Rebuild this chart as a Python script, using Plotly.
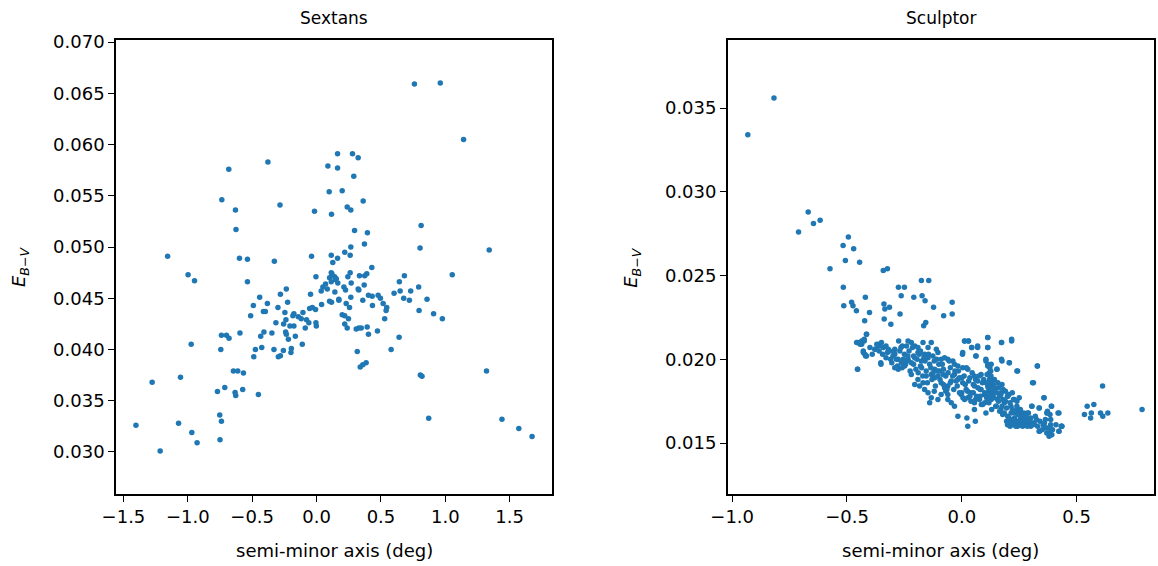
import plotly.graph_objects as go

# ---------------- Sextans ----------------
sextans_x = [
    0.163, -0.378, -0.682, 0.088, 0.163, 0.098, -0.736, -0.284, -0.630, -0.016,
    0.116, -0.626, -1.157, -0.599, -0.537, -0.328, -0.039, 0.114, 0.163, 0.126,
    0.760, 0.961, 1.142, 0.279, 0.323, 0.289, 0.199, 0.362, 0.238, 0.266,
    0.812, 0.295, 0.395, 0.372, 0.266, 0.804, 1.341, 0.219, 0.261, 0.429,
    -0.998, -0.948, -0.537, -0.005, 0.119, 0.147, 0.101, 0.070, 0.049, 0.083,
    0.036, 0.142, -0.047, -0.235, -0.281, -0.442, -0.225, -0.382, -0.491, -0.300,
    -0.413, -0.398, -0.512, -0.246, -0.176, -0.106, -0.054, -0.033, -0.008, 0.039,
    0.101, 0.116, 0.173, -0.238, -0.184, -0.142, -0.119, -0.078, -0.060, -0.005,
    -0.002, -0.088, -0.316, -0.256, -0.207, -0.176, -0.240, -0.235, -0.219, -0.165,
    -0.347, -0.409, -0.434, -0.111, -0.196, -0.199, -0.258, -0.281, -0.297, -0.331,
    -0.426, -0.475, -0.488, -0.595, -0.739, -0.700, -0.680, -0.744, -0.974, -0.646,
    -0.612, -0.568, -1.057, -1.277, -0.770, -0.713, -0.633, -0.628, -0.574, -0.452,
    -0.752, -0.739, -1.072, -1.403, -0.969, -0.928, -0.750, -1.215, 0.261, 0.333,
    0.374, 0.390, 0.114, 0.140, 0.153, 0.165, 0.114, 0.243, 0.269, 0.370,
    0.323, 0.328, 0.212, 0.225, 0.173, 0.266, 0.359, 0.403, 0.432, 0.478,
    0.496, 0.434, 0.230, 0.256, 0.517, 0.545, 0.540, 0.199, 0.219, 0.248,
    0.219, 0.238, 0.308, 0.328, 0.347, 0.393, 0.403, 0.473, 0.529, 0.641,
    0.579, 0.316, 0.339, 0.359, 0.385, 1.054, 0.682, 0.643, 0.649, 0.602,
    0.731, 0.793, 0.677, 0.721, 0.796, 0.858, 0.909, 0.977, 1.320, 0.806,
    0.819, 0.871, 1.440, 1.571, 1.674,
]
sextans_y = [
    0.0591, 0.0583, 0.0576, 0.0579, 0.0577, 0.0554, 0.0546, 0.0541, 0.0536, 0.0535,
    0.0532, 0.0517, 0.0491, 0.0489, 0.0488, 0.0486, 0.0491, 0.0492, 0.0489, 0.0485,
    0.0659, 0.0660, 0.0605, 0.0591, 0.0587, 0.0569, 0.0555, 0.0545, 0.0539, 0.0536,
    0.0521, 0.0516, 0.0514, 0.0503, 0.0500, 0.0499, 0.0497, 0.0495, 0.0492, 0.0480,
    0.0473, 0.0467, 0.0466, 0.0471, 0.0474, 0.0468, 0.0470, 0.0464, 0.0461, 0.0459,
    0.0457, 0.0456, 0.0454, 0.0459, 0.0454, 0.0451, 0.0446, 0.0445, 0.0443, 0.0441,
    0.0437, 0.0437, 0.0433, 0.0436, 0.0435, 0.0436, 0.0440, 0.0441, 0.0439, 0.0444,
    0.0447, 0.0446, 0.0449, 0.0429, 0.0433, 0.0432, 0.0430, 0.0429, 0.0426, 0.0426,
    0.0423, 0.0421, 0.0426, 0.0425, 0.0423, 0.0423, 0.0417, 0.0415, 0.0410, 0.0413,
    0.0416, 0.0417, 0.0413, 0.0405, 0.0401, 0.0397, 0.0399, 0.0394, 0.0393, 0.0400,
    0.0402, 0.0400, 0.0393, 0.0416, 0.0414, 0.0414, 0.0411, 0.0400, 0.0405, 0.0379,
    0.0379, 0.0377, 0.0373, 0.0368, 0.0359, 0.0363, 0.0358, 0.0355, 0.0361, 0.0356,
    0.0336, 0.0330, 0.0328, 0.0326, 0.0319, 0.0309, 0.0312, 0.0301, 0.0475, 0.0472,
    0.0472, 0.0474, 0.0475, 0.0471, 0.0469, 0.0465, 0.0466, 0.0471, 0.0465, 0.0463,
    0.0459, 0.0458, 0.0461, 0.0458, 0.0448, 0.0451, 0.0448, 0.0453, 0.0452, 0.0453,
    0.0450, 0.0443, 0.0445, 0.0441, 0.0445, 0.0441, 0.0438, 0.0434, 0.0433, 0.0430,
    0.0425, 0.0421, 0.0420, 0.0421, 0.0421, 0.0422, 0.0415, 0.0418, 0.0430, 0.0412,
    0.0400, 0.0398, 0.0383, 0.0385, 0.0387, 0.0473, 0.0472, 0.0466, 0.0457, 0.0455,
    0.0457, 0.0461, 0.0450, 0.0448, 0.0438, 0.0449, 0.0435, 0.0430, 0.0379, 0.0375,
    0.0374, 0.0333, 0.0332, 0.0323, 0.0315,
]

# ---------------- Sculptor ----------------
sculptor_x = [
    # outliers / upper-left
    -0.818, -0.932, -0.669, -0.646, -0.617, -0.711, -0.494, -0.517, -0.471, -0.507,
    -0.445, -0.574, -0.342, -0.324, -0.516, -0.276, -0.250, -0.264, -0.176, -0.144,
    -0.209, -0.173, -0.160, -0.123, -0.420, -0.514, -0.480, -0.474, -0.459, -0.402,
    -0.423, -0.339, -0.335, -0.315, -0.338, -0.269, -0.309, -0.166, -0.157, -0.042,
    -0.042, -0.079,
    # right side
    0.613, 0.546, 0.575, 0.534, 0.564, 0.561, 0.604, 0.614, 0.636, 0.785,
    0.329, 0.312, 0.358, 0.391, 0.337, 0.423, 0.370, 0.384, 0.364, 0.354,
    0.387, 0.390, 0.338, 0.433, 0.423, 0.370, 0.387, 0.380, 0.305, 0.243,
    0.373,
    # upper part of band (right)
    0.113, 0.012, 0.029, 0.043, 0.069, 0.113, 0.173, 0.217, 0.003, 0.061,
    0.105, 0.175, 0.207, 0.113, 0.153, 0.240, 0.436,
    # dense band
    -0.454, -0.436, -0.425, -0.415, -0.429, -0.422, -0.415, -0.454, -0.379, -0.360,
    -0.342, -0.353, -0.324, -0.314, -0.292, -0.275, -0.259, -0.241, -0.234, -0.220,
    -0.205, -0.191, -0.169, -0.147, -0.133, -0.111, -0.292, -0.277, -0.263, -0.249,
    -0.234, -0.220, -0.205, -0.191, -0.176, -0.162, -0.147, -0.126, -0.104, -0.090,
    -0.075, -0.061, -0.039, -0.032, 0.004, 0.012, 0.029, 0.043, 0.069, 0.062,
    0.113, 0.113, 0.105, 0.113, 0.173, 0.217, 0.173, 0.207, 0.153, 0.243,
    0.329, 0.308, 0.358, 0.390, 0.419, 0.435, 0.423, 0.337, 0.305, 0.337,
    0.373, 0.387, 0.366, 0.380, 0.392,
    -0.277, -0.292, -0.220, -0.191, -0.205, -0.184, -0.169, -0.162, -0.147, -0.133,
    -0.140, -0.118, -0.104, -0.090, -0.075, -0.061, -0.046, -0.032, -0.017, 0.004,
    0.019, -0.003, 0.026, 0.040, 0.055, 0.069, 0.084, 0.098, 0.113, 0.127,
    0.127, 0.142, 0.156, 0.171, 0.185, 0.199, 0.214, 0.228, 0.243, 0.257,
    0.272, 0.286, 0.308, 0.214, 0.228, 0.199, 0.243, 0.257, 0.286, -0.061,
    -0.032, -0.017, 0.022, 0.026, 0.059, 0.055, 0.105, 0.130, 0.178, -0.061,
    -0.104, -0.046, 0.012, 0.055, 0.077, 0.091, 0.113, 0.127, 0.142, 0.120,
    0.084, 0.055, 0.026, 0.004, -0.017, -0.118, -0.097, -0.082, -0.133, -0.155,
    0.120, 0.125, 0.130, 0.118, 0.135, 0.122, 0.128,
    0.160, 0.175, 0.190, 0.205, 0.220, 0.165, 0.180, 0.240, 0.250,
    0.200, 0.215, 0.230, 0.245, 0.260, 0.270, 0.290, 0.300, 0.220, 0.235,
    0.255, 0.280, 0.315, 0.325, 0.195, 0.210,
    -0.310, -0.300, -0.270, -0.250, -0.230, -0.210, -0.180, -0.160, -0.140, -0.120,
    -0.100, -0.080, -0.060, -0.050, -0.030, -0.010, 0.010, 0.030, 0.050, 0.070,
    0.090, -0.200, -0.180, -0.240, -0.260,
    -0.120, -0.090, -0.070, -0.020, 0.000, 0.035, 0.060, 0.080, 0.100, 0.150,
    0.170,
    -0.458, -0.443, -0.436, -0.425, -0.415, -0.454, -0.352, -0.429, -0.419, -0.376,
    -0.361,
    # further density in the band
    -0.345, -0.330, -0.320, -0.305, -0.295, -0.285, -0.280, -0.265, -0.255, -0.245,
    -0.235, -0.225, -0.215, -0.210,
    -0.195, -0.190, -0.185, -0.175, -0.170, -0.165, -0.155, -0.150, -0.145, -0.135,
    -0.130, -0.125, -0.115, -0.110, -0.105, -0.095, -0.085, -0.080, -0.070, -0.065,
    -0.055, -0.050,
    -0.040, -0.035, -0.025, -0.015, -0.010, 0.000, 0.005, 0.015, 0.020, 0.025,
    0.035, 0.040, 0.045, 0.050, 0.060, 0.065, 0.075, 0.080, 0.085, 0.095,
    0.100,
    0.105, 0.108, 0.110, 0.115, 0.118, 0.120, 0.123, 0.126, 0.128, 0.130,
    0.133, 0.137, 0.140, 0.145, 0.148, 0.152, 0.157, 0.160, 0.165, 0.170,
    0.175, 0.180, 0.185, 0.190, 0.195, 0.200, 0.205, 0.210, 0.215, 0.220,
    0.225, 0.230, 0.235, 0.240, 0.245, 0.250,
    0.255, 0.260, 0.265, 0.270, 0.275, 0.280, 0.285, 0.290, 0.295, 0.300,
    0.310, 0.320, 0.330, 0.340, 0.350, 0.360, 0.375, 0.395, 0.410,
    -0.400, -0.390, -0.370, -0.360, -0.350, -0.330,
]
sculptor_y = [
    0.0356, 0.0334, 0.0288, 0.0281, 0.0283, 0.0276, 0.0273, 0.0268, 0.0266, 0.0259,
    0.0258, 0.0254, 0.0253, 0.0254, 0.0243, 0.0243, 0.0243, 0.0238, 0.0247, 0.0247,
    0.0237, 0.0238, 0.0235, 0.0231, 0.0237, 0.0232, 0.0234, 0.0232, 0.0229, 0.0228,
    0.0223, 0.0233, 0.0230, 0.0231, 0.0224, 0.0227, 0.0221, 0.0220, 0.0222, 0.0234,
    0.0227, 0.0226,
    0.0184, 0.0172, 0.0173, 0.0167, 0.0168, 0.0165, 0.0168, 0.0166, 0.0168, 0.0170,
    0.0196, 0.0186, 0.0177, 0.0172, 0.0171, 0.0168, 0.0168, 0.0167, 0.0164, 0.0161,
    0.0161, 0.0158, 0.0157, 0.0160, 0.0157, 0.0156, 0.0155, 0.0154, 0.0172, 0.0170,
    0.0169,
    0.0213, 0.0211, 0.0211, 0.0207, 0.0207, 0.0207, 0.0210, 0.0212, 0.0203, 0.0202,
    0.0199, 0.0199, 0.0198, 0.0196, 0.0194, 0.0193, 0.0160,
    0.0210, 0.0209, 0.0211, 0.0215, 0.0205, 0.0203, 0.0202, 0.0194, 0.0206, 0.0209,
    0.0207, 0.0198, 0.0204, 0.0205, 0.0206, 0.0211, 0.0208, 0.0208, 0.0211, 0.0210,
    0.0208, 0.0207, 0.0210, 0.0207, 0.0210, 0.0206, 0.0203, 0.0200, 0.0198, 0.0196,
    0.0200, 0.0198, 0.0201, 0.0204, 0.0199, 0.0203, 0.0201, 0.0202, 0.0204, 0.0200,
    0.0201, 0.0200, 0.0199, 0.0197, 0.0204, 0.0211, 0.0211, 0.0207, 0.0208, 0.0202,
    0.0213, 0.0207, 0.0200, 0.0197, 0.0210, 0.0211, 0.0200, 0.0198, 0.0194, 0.0193,
    0.0196, 0.0186, 0.0177, 0.0172, 0.0168, 0.0160, 0.0157, 0.0157, 0.0172, 0.0171,
    0.0168, 0.0164, 0.0159, 0.0156, 0.0155,
    0.0194, 0.0195, 0.0191, 0.0188, 0.0185, 0.0184, 0.0186, 0.0182, 0.0180, 0.0177,
    0.0174, 0.0189, 0.0190, 0.0186, 0.0183, 0.0184, 0.0187, 0.0191, 0.0188, 0.0186,
    0.0182, 0.0179, 0.0177, 0.0180, 0.0184, 0.0187, 0.0182, 0.0179, 0.0184, 0.0190,
    0.0178, 0.0182, 0.0176, 0.0180, 0.0174, 0.0178, 0.0172, 0.0176, 0.0170, 0.0168,
    0.0166, 0.0164, 0.0162, 0.0164, 0.0162, 0.0161, 0.0160, 0.0166, 0.0168, 0.0176,
    0.0172, 0.0166, 0.0165, 0.0160, 0.0163, 0.0170, 0.0168, 0.0170, 0.0167, 0.0179,
    0.0176, 0.0174, 0.0176, 0.0174, 0.0176, 0.0173, 0.0176, 0.0186, 0.0188, 0.0192,
    0.0191, 0.0190, 0.0194, 0.0195, 0.0196, 0.0194, 0.0193, 0.0191, 0.0191, 0.0190,
    0.0188, 0.0185, 0.0183, 0.0181, 0.0179, 0.0195, 0.0197,
    0.0183, 0.0185, 0.0181, 0.0179, 0.0180, 0.0178, 0.0176, 0.0175, 0.0177,
    0.0166, 0.0168, 0.0165, 0.0163, 0.0161, 0.0162, 0.0161, 0.0160, 0.0161, 0.0160,
    0.0164, 0.0163, 0.0162, 0.0164, 0.0163, 0.0160,
    0.0200, 0.0202, 0.0205, 0.0203, 0.0205, 0.0202, 0.0205, 0.0199, 0.0197, 0.0199,
    0.0197, 0.0194, 0.0192, 0.0195, 0.0193, 0.0189, 0.0190, 0.0187, 0.0185, 0.0183,
    0.0186, 0.0194, 0.0196, 0.0199, 0.0195,
    0.0181, 0.0179, 0.0181, 0.0184, 0.0180, 0.0178, 0.0176, 0.0178, 0.0174, 0.0172,
    0.0170,
    0.0210, 0.0209, 0.0211, 0.0212, 0.0215, 0.0194, 0.0197, 0.0204, 0.0202, 0.0206,
    0.0208,
    0.0203, 0.0201, 0.0206, 0.0198, 0.0204, 0.0200, 0.0196, 0.0207, 0.0200, 0.0197,
    0.0202, 0.0193, 0.0207, 0.0197,
    0.0200, 0.0192, 0.0203, 0.0195, 0.0190, 0.0201, 0.0193, 0.0186, 0.0203, 0.0195,
    0.0188, 0.0192, 0.0184, 0.0200, 0.0193, 0.0188, 0.0197, 0.0185, 0.0190, 0.0182,
    0.0199, 0.0186,
    0.0190, 0.0182, 0.0187, 0.0193, 0.0180, 0.0189, 0.0177, 0.0185, 0.0195, 0.0181,
    0.0189, 0.0175, 0.0192, 0.0180, 0.0188, 0.0178, 0.0190, 0.0182, 0.0173, 0.0188,
    0.0180,
    0.0186, 0.0177, 0.0191, 0.0183, 0.0174, 0.0179, 0.0190, 0.0193, 0.0176, 0.0187,
    0.0181, 0.0185, 0.0177, 0.0183, 0.0172, 0.0180, 0.0186, 0.0175, 0.0169, 0.0179,
    0.0172, 0.0182, 0.0168, 0.0175, 0.0171, 0.0178, 0.0165, 0.0174, 0.0162, 0.0170,
    0.0176, 0.0168, 0.0163, 0.0172, 0.0167, 0.0161,
    0.0170, 0.0165, 0.0160, 0.0168, 0.0163, 0.0166, 0.0160, 0.0168, 0.0163, 0.0165,
    0.0161, 0.0166, 0.0160, 0.0163, 0.0158, 0.0162, 0.0159, 0.0158, 0.0161,
    0.0207, 0.0203, 0.0209, 0.0205, 0.0210, 0.0208,
]

sextans_yticks = [0.030, 0.035, 0.040, 0.045, 0.050, 0.055, 0.060, 0.065, 0.070]
sculptor_yticks = [0.015, 0.020, 0.025, 0.030, 0.035]
sextans_xticks = [-1.5, -1.0, -0.5, 0.0, 0.5, 1.0, 1.5]
sculptor_xticks = [-1.0, -0.5, 0.0, 0.5]

BLUE = "#1f77b4"
FONT = "DejaVu Sans"
TICK_SIZE = 18
LABEL_SIZE = 18
TITLE_SIZE = 17

fig = go.Figure()
fig.add_trace(go.Scatter(x=sextans_x, y=sextans_y, mode="markers",
                         marker=dict(color=BLUE, size=5.5, line=dict(width=0)),
                         xaxis="x", yaxis="y", showlegend=False))
fig.add_trace(go.Scatter(x=sculptor_x, y=sculptor_y, mode="markers",
                         marker=dict(color=BLUE, size=5.5, line=dict(width=0)),
                         xaxis="x2", yaxis="y2", showlegend=False))

axis_common = dict(showline=True, linecolor="black", linewidth=1.5, mirror=True,
                   ticks="outside", ticklen=6, tickwidth=1.3, tickcolor="black",
                   showgrid=False, zeroline=False,
                   tickfont=dict(family=FONT, size=TICK_SIZE, color="black"))

L0, L1 = 0.0, 437 / 1040
R0, R1 = 613 / 1040, 1.0

fig.update_layout(
    width=1158, height=566,
    margin=dict(l=116, r=2, t=40, b=72),
    paper_bgcolor="white", plot_bgcolor="white",
    font=dict(family=FONT, color="black"),
    xaxis=dict(domain=[L0, L1], range=[-1.558, 1.83], tickvals=sextans_xticks,
               tickformat=".1f", anchor="y", **axis_common),
    yaxis=dict(domain=[0, 1], range=[0.0259, 0.0702], tickvals=sextans_yticks,
               tickformat=".3f", anchor="x", **axis_common),
    xaxis2=dict(domain=[R0, R1], range=[-1.019, 0.837], tickvals=sculptor_xticks,
                tickformat=".1f", anchor="y2", **axis_common),
    yaxis2=dict(domain=[0, 1], range=[0.01196, 0.03906], tickvals=sculptor_yticks,
                tickformat=".3f", anchor="x2", **axis_common),
)

title_font = dict(family=FONT, size=TITLE_SIZE, color="black")
label_font = dict(family=FONT, size=LABEL_SIZE, color="black")
ytitle = "<i>E</i><sub><i>B</i>−<i>V</i></sub>"
annotations = [
    dict(text="Sextans", x=(L0 + L1) / 2, y=1, xref="paper", yref="paper",
         yanchor="middle", xanchor="center", yshift=22, showarrow=False, font=title_font),
    dict(text="Sculptor", x=(R0 + R1) / 2, y=1, xref="paper", yref="paper",
         yanchor="middle", xanchor="center", yshift=22, showarrow=False, font=title_font),
    dict(text="semi-minor axis (deg)", x=(L0 + L1) / 2, y=0, xref="paper", yref="paper",
         yanchor="middle", xanchor="center", yshift=-56, showarrow=False, font=label_font),
    dict(text="semi-minor axis (deg)", x=(R0 + R1) / 2, y=0, xref="paper", yref="paper",
         yanchor="middle", xanchor="center", yshift=-56, showarrow=False, font=label_font),
    dict(text=ytitle, x=L0, y=0.5, xref="paper", yref="paper",
         xanchor="center", yanchor="middle", xshift=-96, textangle=-90,
         showarrow=False, font=label_font),
    dict(text=ytitle, x=R0, y=0.5, xref="paper", yref="paper",
         xanchor="center", yanchor="middle", xshift=-96, textangle=-90,
         showarrow=False, font=label_font),
]
fig.update_layout(annotations=annotations)

fig.write_html("out.html")
